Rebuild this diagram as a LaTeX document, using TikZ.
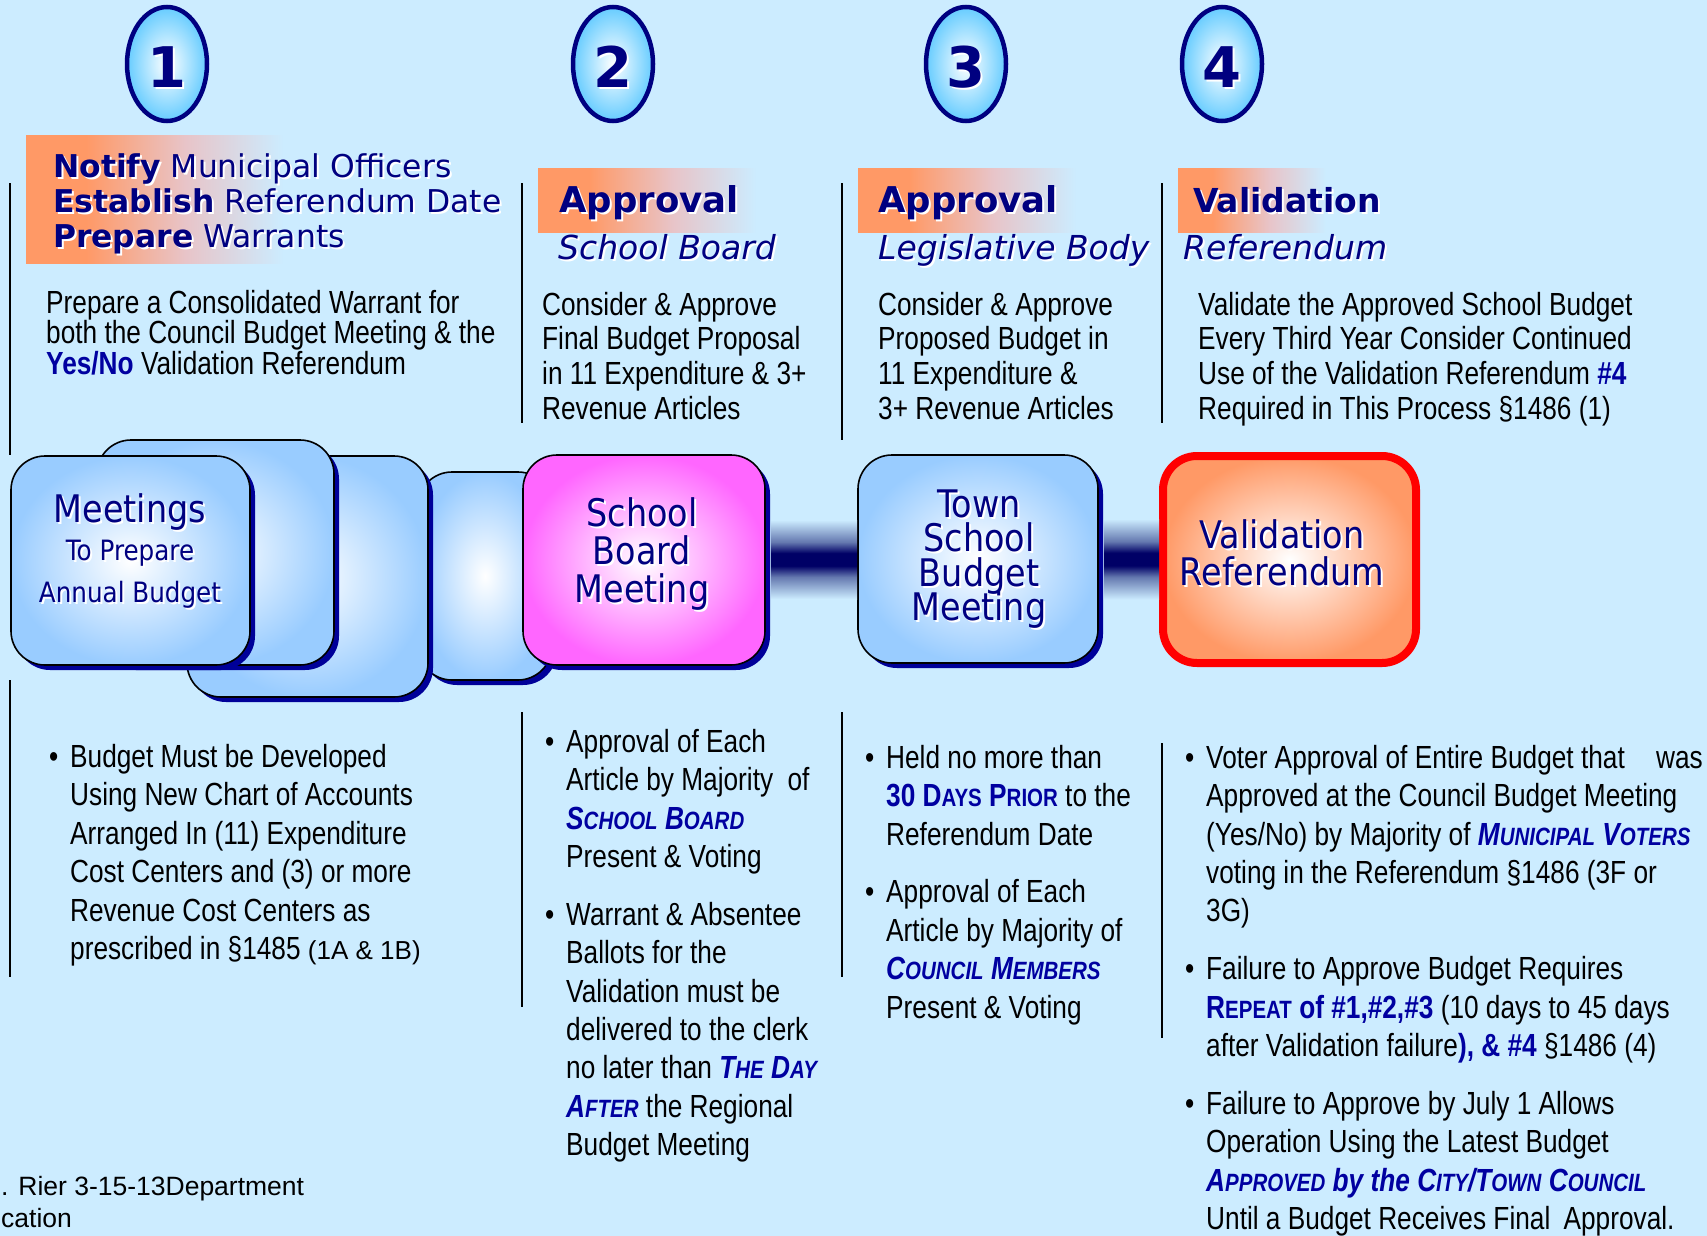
\documentclass[tikz,border=0pt]{standalone}
\usepackage{fontspec}
\usetikzlibrary{shapes.geometric,shadows}
\setmainfont{Liberation Sans}
\newfontfamily\narrowf{Liberation Sans}[FakeStretch=0.82]
\newfontfamily\verdf{DejaVu Sans}
\newfontfamily\tahf{DejaVu Sans}[FakeStretch=0.88]

\definecolor{bgc}{RGB}{204,236,255}
\definecolor{navyt}{RGB}{0,0,128}
\definecolor{hlblue}{RGB}{0,0,160}
\definecolor{boxblue}{RGB}{153,204,255}
\definecolor{magf}{RGB}{255,102,255}
\definecolor{orf}{RGB}{255,153,102}
\definecolor{ellblue}{RGB}{102,204,255}
\definecolor{shnavy}{RGB}{0,0,153}
\definecolor{barnavy}{RGB}{0,0,102}
\definecolor{barmid}{RGB}{100,120,175}
\definecolor{hdrmid}{RGB}{232,196,200}
\definecolor{redb}{RGB}{255,0,0}

\pgfdeclarehorizontalshading{hdrfade}{100bp}{color(0bp)=(orf); color(25bp)=(orf); color(36bp)=(orf); color(54bp)=(hdrmid); color(72bp)=(bgc); color(100bp)=(bgc)}
\pgfdeclareverticalshading{barshade}{100bp}{color(0bp)=(bgc); color(25bp)=(bgc); color(39bp)=(barmid); color(46bp)=(barnavy); color(54bp)=(barnavy); color(61bp)=(barmid); color(75bp)=(bgc); color(100bp)=(bgc)}

\setlength\lineskiplimit{-100pt}
\newcommand\shd[1]{\leavevmode\rlap{\kern2pt\raisebox{-2pt}[0pt][0pt]{\color{white}#1}}#1}
\newcommand\fst[1]{\rule{0pt}{#1}}
\newcommand\smc[1]{{\fontsize{25}{25}\selectfont #1}}
\newcommand\hl[1]{{\bfseries\itshape\color{hlblue}#1}}
\newcommand\hlb[1]{{\bfseries\color{hlblue}#1}}
\newcommand\bul{\makebox[21pt][l]{•}}
\newcommand\ind{\hspace*{21pt}}

\begin{document}
\begin{tikzpicture}[x=1pt,y=-1pt,
  sepline/.style={line width=1.6pt, black},
  numell/.style={ellipse, draw=navyt, line width=4.5pt, inner color=white, outer color=ellblue, minimum width=80pt, minimum height=114pt, inner sep=0pt},
  numtext/.style={inner sep=0pt, anchor=base, text=navyt, font=\verdf\bfseries\fontsize{56}{56}\selectfont},
  card/.style={rectangle, rounded corners=34pt, draw=black, line width=1.6pt, inner sep=0pt, drop shadow={shadow xshift=5pt, shadow yshift=-5pt, opacity=1, fill=shnavy}},
  bluecard/.style={card, inner color=white, outer color=boxblue},
  hdrtext/.style={inner sep=0pt, anchor=north west, align=left, text=navyt, font=\verdf\fontsize{31.4}{35}\selectfont},
  hdrbold/.style={inner sep=0pt, anchor=base west, text=navyt, font=\verdf\bfseries\fontsize{35.5}{36}\selectfont},
  hdrital/.style={inner sep=0pt, anchor=base west, text=navyt, font=\verdf\itshape\fontsize{33}{34}\selectfont},
  bodytext/.style={inner sep=0pt, anchor=north west, align=left, text=black, font=\narrowf\fontsize{32}{34.7}\selectfont},
  bullettext/.style={inner sep=0pt, anchor=north west, align=left, text=black, font=\narrowf\fontsize{32}{38.4}\selectfont},
  boxtext/.style={inner sep=0pt, anchor=north, align=center, text=navyt, font=\tahf\fontsize{38}{38}\selectfont},
  hdrfill/.style={shading=hdrfade},
  bar/.style={shading=barshade},
]
\useasboundingbox (0,0) rectangle (1707,1236);
\fill[bgc] (0,0) rectangle (1707,1236);

% separator lines
\draw[sepline] (10,183) -- (10,455);
\draw[sepline] (10,680) -- (10,977);
\draw[sepline] (522,183) -- (522,423);
\draw[sepline] (522,712) -- (522,1007);
\draw[sepline] (842,183) -- (842,440);
\draw[sepline] (842,712) -- (842,977);
\draw[sepline] (1162,183) -- (1162,423);
\draw[sepline] (1162,743) -- (1162,1038);

% header fills
\shade[hdrfill] (26,136) rectangle (300,263);
\shade[hdrfill] (538,168) rectangle (770,232);
\shade[hdrfill] (858,168) rectangle (1090,232);
\shade[hdrfill] (1178,168) rectangle (1335,232);

% number ellipses
\node[numell] (n1) at (167,64) {};
\node[numell] (n2) at (613,64) {};
\node[numell] (n3) at (966,64) {};
\node[numell] (n4) at (1222,64) {};
\node[numtext] (d1) at (167,88) {\shd{1}};
\node[numtext] (d2) at (613,88) {\shd{2}};
\node[numtext] (d3) at (966,88) {\shd{3}};
\node[numtext] (d4) at (1222,88) {\shd{4}};

% headers
\node[hdrtext] (h1) at (53,151.9) {\fst{25.1pt}\shd{\textbf{Notify} Municipal Officers}\\\shd{\textbf{Establish} Referendum Date}\\\shd{\textbf{Prepare} Warrants}};
\node[hdrbold] (h2a) at (559,212) {\shd{Approval}};
\node[hdrital] (h2b) at (558,259) {\shd{School Board}};
\node[hdrbold] (h3a) at (878,212) {\shd{Approval}};
\node[hdrital] (h3b) at (878,259) {\shd{Legislative Body}};
\node[hdrbold, font=\verdf\bfseries\fontsize{33}{34}\selectfont] (h4a) at (1193,212) {\shd{Validation}};
\node[hdrital] (h4b) at (1183,259) {\shd{Referendum}};

% upper body texts
\node[bodytext, font=\narrowf\fontsize{32}{30.5}\selectfont] (b1) at (46,287.4) {\fst{25.6pt}Prepare a Consolidated Warrant for\\both the Council Budget Meeting \& the\\\hlb{Yes/No} Validation Referendum};
\node[bodytext] (b2) at (542,289.4) {\fst{25.6pt}Consider \& Approve\\Final Budget Proposal\\in 11 Expenditure \& 3+\\Revenue Articles};
\node[bodytext] (b3) at (878,289.4) {\fst{25.6pt}Consider \& Approve\\Proposed Budget in\\11 Expenditure \&\\3+ Revenue Articles};
\node[bodytext] (b4) at (1198,289.4) {\fst{25.6pt}Validate the Approved School Budget\\Every Third Year Consider Continued\\Use of the Validation Referendum \hlb{\#4}\\Required in This Process §1486 (1)};

% stacked meeting cards
\node[bluecard, minimum width=134pt, minimum height=208pt] (m4) at (485,576) {};
\node[bluecard, minimum width=241pt, minimum height=241pt] (m3) at (307.5,576.5) {};
\node[bluecard, minimum width=237pt, minimum height=225pt] (m2) at (215.5,552.5) {};
\node[bluecard, minimum width=239pt, minimum height=209pt] (m1) at (130.5,560.5) {};
\node[card, inner color=white, outer color=magf, minimum width=242pt, minimum height=210pt] (sb) at (644,560) {};
\node[bluecard, minimum width=240pt, minimum height=208pt] (tw) at (978,559) {};
\node[rectangle, rounded corners=34pt, draw=redb, line width=8pt, inner color=white, outer color=orf, minimum width=253pt, minimum height=207pt, inner sep=0pt] (vr) at (1289.5,559.5) {};

% connector bars
\shade[bar] ([xshift=5pt,yshift=40pt]sb.east) rectangle ([yshift=-40pt]tw.west);
\shade[bar] ([xshift=5pt,yshift=40pt]tw.east) rectangle ([yshift=-40pt]vr.west);

% box texts
\node[boxtext] (t1) at (130,491.6) {\fst{30.4pt}\shd{Meetings}\\{\fontsize{28}{28}\selectfont\shd{To Prepare}}\\[4pt]{\fontsize{28}{28}\selectfont\shd{Annual Budget}}};
\node[boxtext] (t2) at (642,495.6) {\fst{30.4pt}\shd{School}\\\shd{Board}\\\shd{Meeting}};
\node[boxtext, font=\tahf\fontsize{38}{34.5}\selectfont] (t3) at (979,486.6) {\fst{30.4pt}\shd{Town}\\\shd{School}\\\shd{Budget}\\\shd{Meeting}};
\node[boxtext, font=\tahf\fontsize{38}{37}\selectfont] (t4) at (1282,517.6) {\fst{30.4pt}\shd{Validation}\\\shd{Referendum}};

% lower bullet texts
\node[bullettext, font=\narrowf\fontsize{32}{38.5}\selectfont] (l1) at (49,741.4) {\fst{25.6pt}\bul Budget Must be Developed\\
\ind Using New Chart of Accounts\\
\ind Arranged In (11) Expenditure\\
\ind Cost Centers and (3) or more\\
\ind Revenue Cost Centers as\\
\ind prescribed in §1485 {\rmfamily\fontsize{26}{26}\selectfont (1A \& 1B)}};

\node[bullettext] (l2) at (545,726.4) {\fst{25.6pt}\bul Approval of Each\\
\ind Article by Majority\hspace{7pt} of\\
\ind\hl{S\smc{CHOOL} B\smc{OARD}}\\
\ind Present \& Voting\\[19.5pt]
\bul Warrant \& Absentee\\
\ind Ballots for the\\
\ind Validation must be\\
\ind delivered to the clerk\\
\ind no later than \hl{T\smc{HE} D\smc{AY}}\\
\ind\hl{A\smc{FTER}} the Regional\\
\ind Budget Meeting};

\node[bullettext] (l3) at (865,742.4) {\fst{25.6pt}\bul Held no more than\\
\ind\hlb{30 D\smc{AYS} P\smc{RIOR}} to the\\
\ind Referendum Date\\[19.5pt]
\bul Approval of Each\\
\ind Article by Majority of\\
\ind\hl{C\smc{OUNCIL} M\smc{EMBERS}}\\
\ind Present \& Voting};

\node[bullettext] (l4) at (1185,742.4) {\fst{25.6pt}\bul Voter Approval of Entire Budget that\hspace{24pt} was\\
\ind Approved at the Council Budget Meeting\\
\ind (Yes/No) by Majority of \hl{M\smc{UNICIPAL} V\smc{OTERS}}\\
\ind voting in the Referendum §1486 (3F or\\
\ind 3G)\\[19.5pt]
\bul Failure to Approve Budget Requires\\
\ind\hlb{R\smc{EPEAT} of \#1,\#2,\#3} (10 days to 45 days\\
\ind after Validation failure\hlb{), \& \#4} §1486 (4)\\[19.5pt]
\bul Failure to Approve by July 1 Allows\\
\ind Operation Using the Latest Budget\\
\ind\hl{A\smc{PPROVED} by the C\smc{ITY}/T\smc{OWN} C\smc{OUNCIL}}\\
\ind Until a Budget Receives Final\hspace{6pt} Approval.};

% footer
\node[inner sep=0pt, anchor=north west, align=left, font=\rmfamily\fontsize{26.5}{32}\selectfont] (ft) at (1,1174.2) {\fst{20.8pt}. Rier 3-15-13Department\\cation};
\end{tikzpicture}
\end{document}
